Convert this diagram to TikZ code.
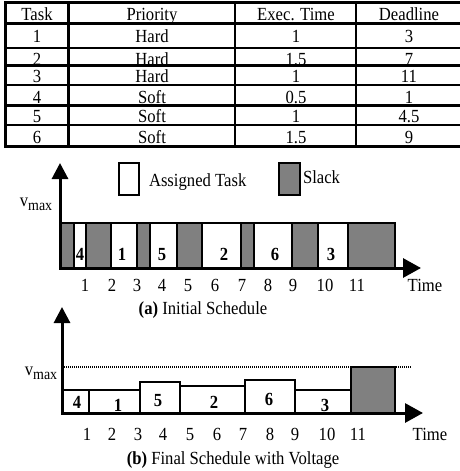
\documentclass[tikz,border=0pt]{standalone}
\usepackage{fontspec}
\setmainfont{Liberation Serif}[FakeStretch=0.9]
\usetikzlibrary{positioning,arrows.meta}
\definecolor{slackgray}{RGB}{128,128,128}

\tikzset{cell/.style={anchor=base, inner sep=0pt}}
\tikzset{num/.style={cell, font=\fontsize{18.5}{20}\selectfont\bfseries}}
\tikzset{job/.style={draw, line width=1.6pt, fill=white}}
\tikzset{idle/.style={job, fill=slackgray}}
\tikzset{axis/.style={line width=3pt, {Triangle[length=16pt,width=16pt]}-{Triangle[length=18pt,width=19pt]}}}
\newcommand{\vmaxlabel}{v\raisebox{-4pt}{\fontsize{15.5}{16}\selectfont max}}

\begin{document}
\begin{tikzpicture}[x=1pt, y=-1pt, font=\fontsize{18.5}{20}\selectfont, rule/.style={line width=2.8pt}]
    \useasboundingbox (0,0) rectangle (460,471);

    % task table
    \draw[rule] (4,2.5) -- (461,2.5) (4,23.3) -- (461,23.3) (4,48) -- (461,48) (4,65.5) -- (461,65.5)
        (4,85) -- (461,85) (4,105.5) -- (461,105.5) (4,125) -- (461,125) (4,146.7) -- (461,146.7);
    \draw[rule] (5.5,1.2) -- (5.5,148) (68.5,1.2) -- (68.5,148) (235,1.2) -- (235,148) (356,1.2) -- (356,148);

    \node[cell] (h1) at (37,20.5) {Task};
    \node[cell] (h2) at (152,20.5) {Priority};
    \node[cell] (h3) at (296,20.5) {Exec. Time};
    \node[cell] (h4) at (409,20.5) {Deadline};
    \node[cell] (r1c1) at (37,42.5) {1};   \node[cell] (r1c2) at (152,42.5) {Hard};
    \node[cell] (r1c3) at (296,42.5) {1};  \node[cell] (r1c4) at (409,42.5) {3};
    \node[cell] (r2c1) at (37,65) {2};     \node[cell] (r2c2) at (152,65) {Hard};
    \node[cell] (r2c3) at (296,65) {1.5};  \node[cell] (r2c4) at (409,65) {7};
    \node[cell] (r3c1) at (37,82.5) {3};   \node[cell] (r3c2) at (152,82.5) {Hard};
    \node[cell] (r3c3) at (296,82.5) {1};  \node[cell] (r3c4) at (409,82.5) {11};
    \node[cell] (r4c1) at (37,103) {4};    \node[cell] (r4c2) at (152,103) {Soft};
    \node[cell] (r4c3) at (296,103) {0.5}; \node[cell] (r4c4) at (409,103) {1};
    \node[cell] (r5c1) at (37,122.5) {5};  \node[cell] (r5c2) at (152,122.5) {Soft};
    \node[cell] (r5c3) at (296,122.5) {1}; \node[cell] (r5c4) at (409,122.5) {4.5};
    \node[cell] (r6c1) at (37,143) {6};    \node[cell] (r6c2) at (152,143) {Soft};
    \node[cell] (r6c3) at (296,143) {1.5}; \node[cell] (r6c4) at (409,143) {9};

    % legend
    \node[job, minimum width=20pt, minimum height=32pt, inner sep=0pt] (keyjob) at (129,179) {};
    \node[right=9pt of keyjob, inner sep=0pt, yshift=-3.4pt] (keyjobtxt) {Assigned Task};
    \node[idle, minimum width=21pt, minimum height=32pt, inner sep=0pt] (keyidle) at (289.5,179) {};
    \node[right=2pt of keyidle, inner sep=0pt, yshift=2.3pt] (keyidletxt) {Slack};

    % (a) initial schedule
    \draw[idle] (61.5,223) rectangle (74,268);
    \draw[job] (74,223) rectangle (86,268);
    \draw[idle] (86,223) rectangle (111,268);
    \draw[job] (111,223) rectangle (137,268);
    \draw[idle] (137,223) rectangle (150,268);
    \draw[job] (150,223) rectangle (177,268);
    \draw[idle] (177,223) rectangle (202,268);
    \draw[job] (202,223) rectangle (241,268);
    \draw[idle] (241,223) rectangle (254,268);
    \draw[job] (254,223) rectangle (292,268);
    \draw[idle] (292,223) rectangle (318,268);
    \draw[job] (318,223) rectangle (348,268);
    \draw[idle] (348,223) rectangle (395,268);

    \node[num] (ja4) at (80,260) {4};
    \node[num] (ja1) at (122,260) {1};
    \node[num] (ja5) at (162,260) {5};
    \node[num] (ja2) at (224,260) {2};
    \node[num] (ja6) at (275,260) {6};
    \node[num] (ja3) at (331,260) {3};

    \coordinate (ya) at (60,163);
    \coordinate (xa) at (421,268);
    \draw[axis] (ya) |- (xa);
    \node (va) at (36,204) {\vmaxlabel};

    \node[cell] (a1) at (85,291) {1};   \node[cell] (a2) at (112,291) {2};
    \node[cell] (a3) at (137,291) {3};  \node[cell] (a4) at (162,291) {4};
    \node[cell] (a5) at (188,291) {5};  \node[cell] (a6) at (215,291) {6};
    \node[cell] (a7) at (242,291) {7};  \node[cell] (a8) at (268,291) {8};
    \node[cell] (a9) at (293,291) {9};  \node[cell] (a10) at (325,291) {10};
    \node[cell] (a11) at (357,291) {11};
    \node[cell] (ta) at (425,291) {Time};
    \node[cell] (capa) at (203,314.5) {\textbf{(a)} Initial Schedule};

    % (b) final schedule with voltage
    \coordinate (vl) at (64,367);
    \coordinate (vr) at (412,367);
    \draw[line width=1.2pt, dash pattern=on 1pt off 1pt] (vl) -- (vr);

    \draw[job] (62,390) rectangle (89,413);
    \draw[job] (89,390) rectangle (140,413);
    \draw[job] (140,382) rectangle (180,413);
    \draw[job] (180,386) rectangle (245,413);
    \draw[job] (245,380) rectangle (295,413);
    \draw[job] (295,390) rectangle (351,413);
    \draw[idle] (351,367) rectangle (395,413);

    \node[num] (jb4) at (77,408) {4};
    \node[num] (jb1) at (118,411) {1};
    \node[num] (jb5) at (158,406) {5};
    \node[num] (jb2) at (214,408) {2};
    \node[num] (jb6) at (269,405) {6};
    \node[num] (jb3) at (325,411) {3};

    \coordinate (yb) at (62,307);
    \coordinate (xb) at (423,413);
    \draw[axis] (yb) |- (xb);
    \node (vb) at (41,373) {\vmaxlabel};

    \node[cell] (b1) at (87,440) {1};   \node[cell] (b2) at (112,440) {2};
    \node[cell] (b3) at (138,440) {3};  \node[cell] (b4) at (163,440) {4};
    \node[cell] (b5) at (190,440) {5};  \node[cell] (b6) at (217,440) {6};
    \node[cell] (b7) at (243,440) {7};  \node[cell] (b8) at (270,440) {8};
    \node[cell] (b9) at (295,440) {9};  \node[cell] (b10) at (327,440) {10};
    \node[cell] (b11) at (358,440) {11};
    \node[cell] (tb) at (430,440) {Time};
    \node[cell] (capb) at (233,464.5) {\textbf{(b)} Final Schedule with Voltage};
\end{tikzpicture}
\end{document}
